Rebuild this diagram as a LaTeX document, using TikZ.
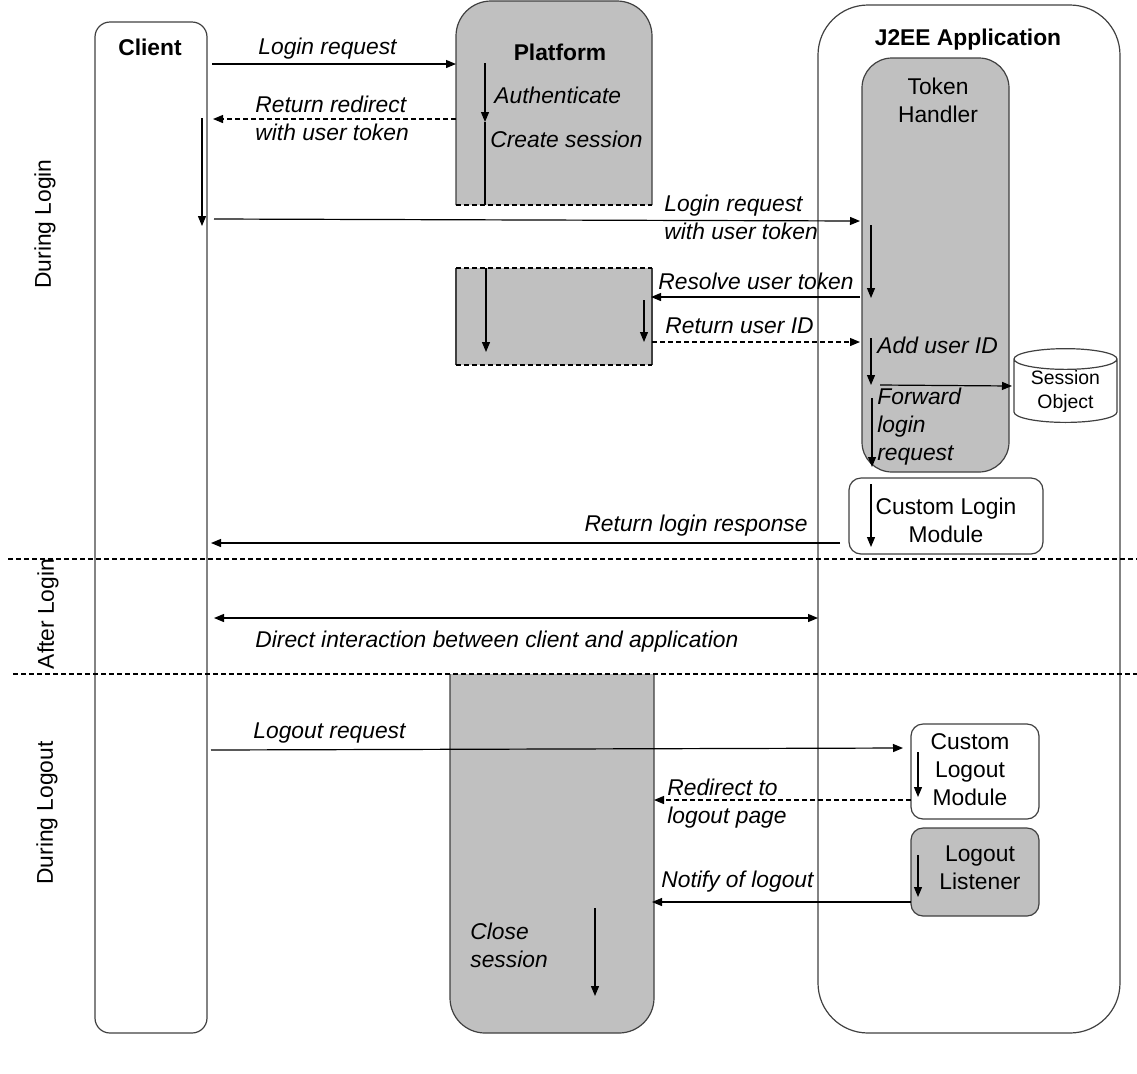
\documentclass[tikz,border=0pt]{standalone}
\usepackage{fontspec}
\setmainfont{Liberation Sans}
\usetikzlibrary{arrows.meta,fit,shapes.geometric}

\definecolor{boxgray}{RGB}{192,192,192}
\definecolor{edgegray}{RGB}{64,64,64}
\newcommand{\basefont}{\fontsize{11.4}{14}\selectfont}
\newcommand{\smallfont}{\fontsize{9.7}{12}\selectfont}

\tikzset{
  lane/.style={draw=edgegray, line width=0.6pt, inner sep=0pt},
  msg/.style={-{Triangle[length=5pt,width=4pt]}, line width=0.6pt},
  reply/.style={msg, dash pattern=on 2.5pt off 1.5pt},
  lbl/.style={font=\basefont\itshape, inner sep=0pt, align=left, anchor=west},
  ttl/.style={font=\basefont\bfseries, inner sep=0pt},
  txt/.style={font=\basefont, inner sep=0pt, align=center},
  phase/.style={font=\basefont, inner sep=0pt, rotate=90},
  sep/.style={dash pattern=on 2.5pt off 1.5pt, line width=0.6pt},
}

\begin{document}
\begin{tikzpicture}[x=0.5pt,y=-0.5pt]
  \useasboundingbox (0,0) rectangle (1137,1073);

  % lifelines
  \node[lane, rounded corners=7.5pt, fit={(95,22) (207,1033)}] (client) {};
  \node[lane, rounded corners=25pt, fit={(818,5) (1120,1033)}] (app) {};

  % platform, three pieces
  \filldraw[fill=boxgray, draw=edgegray, line width=0.6pt, rounded corners=17.5pt]
    (456,205) -- (456,1) -- (652,1) -- (652,205);
  \draw[sep] (456,205) -- (652,205);
  \fill[boxgray] (456,268) rectangle (652,365);
  \draw[lane] (456,268) -- (456,365) (652,268) -- (652,365);
  \draw[sep] (456,268) -- (652,268) (456,365) -- (652,365);
  \filldraw[fill=boxgray, draw=edgegray, line width=0.6pt, rounded corners=17.5pt]
    (450,674) -- (450,1033) -- (654,1033) -- (654,674);

  % phases
  \draw[sep] (8,559) -- (1137,559);
  \draw[sep] (13,674) -- (1137,674);

  % boxes in the application
  \node[lane, fill=boxgray, rounded corners=15pt, fit={(862,58) (1009,472)}] (tokh) {};
  \node[lane, fill=white, rounded corners=6pt, fit={(849,478) (1043,554)}] (clm) {};
  \node[lane, fill=white, rounded corners=6pt, fit={(911,724) (1039,819)}] (clom) {};
  \node[lane, fill=boxgray, rounded corners=6pt, fit={(911,828) (1039,916)}] (lol) {};
  \node[cylinder, shape border rotate=90, draw=edgegray, line width=0.6pt, aspect=0.3,
    minimum width=51.5pt, minimum height=36pt, inner sep=0pt, align=center,
    font=\smallfont] (sess) at (1065.5,391) {Session\\Object};

  % titles
  \node[ttl] (clientT) at (150,47) {Client};
  \node[ttl] (platT) at (560,52) {Platform};
  \node[ttl] (appT) at (968,40) {J2EE Application};
  \node[txt] (tokhT) at (938,100) {Token\\Handler};
  \node[txt] (clmT) at (946,520) {Custom Login\\Module};
  \node[txt] (clomT) at (970,770) {Custom\\Logout\\Module};
  \node[txt] (lolT) at (980,868) {Logout\\Listener};
  \node[phase] (ph1) at (45,224) {During Login};
  \node[phase] (ph2) at (48,614) {After Login};
  \node[phase] (ph3) at (47,813) {During Logout};

  % end points
  \coordinate (m1a) at (212,64);  \coordinate (m1b) at (456,64);
  \coordinate (m2a) at (456,119); \coordinate (m2b) at (213,119);
  \coordinate (m3a) at (214,219); \coordinate (m3b) at (860,221);
  \coordinate (m4a) at (860,297); \coordinate (m4b) at (651,297);
  \coordinate (m5a) at (652,342); \coordinate (m5b) at (860,342);
  \coordinate (m6a) at (880,385); \coordinate (m6b) at (1012,386);
  \coordinate (m7a) at (840,543); \coordinate (m7b) at (211,543);
  \coordinate (m8a) at (214,618); \coordinate (m8b) at (818,618);
  \coordinate (m9a) at (211,750); \coordinate (m9b) at (903,748);
  \coordinate (m10a) at (911,800); \coordinate (m10b) at (654,800);
  \coordinate (m11a) at (911,902); \coordinate (m11b) at (652,902);

  % messages
  \draw[msg] (m1a) -- (m1b);
  \draw[reply] (m2a) -- (m2b);
  \draw[msg] (m3a) -- (m3b);
  \draw[msg] (m4a) -- (m4b);
  \draw[reply] (m5a) -- (m5b);
  \draw[msg] (m6a) -- (m6b);
  \draw[msg] (m7a) -- (m7b);
  \draw[{Triangle[length=5pt,width=4pt]}-{Triangle[length=5pt,width=4pt]}, line width=0.6pt] (m8a) -- (m8b);
  \draw[msg] (m9a) -- (m9b);
  \draw[reply] (m10a) -- (m10b);
  \draw[msg] (m11a) -- (m11b);

  % activations
  \coordinate (a1a) at (485,63);  \coordinate (a1b) at (485,122); \coordinate (a1c) at (485,205);
  \coordinate (a2a) at (202,118); \coordinate (a2b) at (202,226);
  \coordinate (a3a) at (871,225); \coordinate (a3b) at (871,298);
  \coordinate (a4a) at (486,268); \coordinate (a4b) at (486,352);
  \coordinate (a5a) at (644,300); \coordinate (a5b) at (644,342);
  \coordinate (a6a) at (871,338); \coordinate (a6b) at (871,385);
  \coordinate (a7a) at (872,398); \coordinate (a7b) at (872,467);
  \coordinate (a8a) at (871,484); \coordinate (a8b) at (871,547);
  \coordinate (a9a) at (918,752); \coordinate (a9b) at (918,797);
  \coordinate (a10a) at (918,855); \coordinate (a10b) at (918,897);
  \coordinate (a11a) at (595,908); \coordinate (a11b) at (595,996);
  \draw[msg] (a1a) -- (a1b);
  \draw[line width=0.6pt] (a1b) -- (a1c);
  \draw[msg] (a2a) -- (a2b);
  \draw[msg] (a3a) -- (a3b);
  \draw[msg] (a4a) -- (a4b);
  \draw[msg] (a5a) -- (a5b);
  \draw[msg] (a6a) -- (a6b);
  \draw[msg] (a7a) -- (a7b);
  \draw[msg] (a8a) -- (a8b);
  \draw[msg] (a9a) -- (a9b);
  \draw[msg] (a10a) -- (a10b);
  \draw[msg] (a11a) -- (a11b);

  % labels
  \node[lbl] (l1) at (258,49) {Login request};
  \node[lbl] (l2) at (255,118) {Return redirect\\with user token};
  \node[lbl] (l3) at (494,95) {Authenticate};
  \node[lbl] (l4) at (490,139) {Create session};
  \node[lbl] (l5) at (664,217) {Login request\\with user token};
  \node[lbl] (l6) at (658,281) {Resolve user token};
  \node[lbl] (l7) at (665,326) {Return user ID};
  \node[lbl] (l8) at (877,345) {Add user ID};
  \node[lbl] (l9) at (877,427) {Forward\\login\\request};
  \node[lbl, anchor=east] (l10) at (808,526) {Return login response};
  \node[lbl] (l11) at (255,642) {Direct interaction between client and application};
  \node[lbl] (l12) at (253,733) {Logout request};
  \node[lbl] (l13) at (667,804) {Redirect to\\logout page};
  \node[lbl] (l14) at (661,882) {Notify of logout};
  \node[lbl] (l15) at (470,945) {Close\\session};
\end{tikzpicture}
\end{document}
